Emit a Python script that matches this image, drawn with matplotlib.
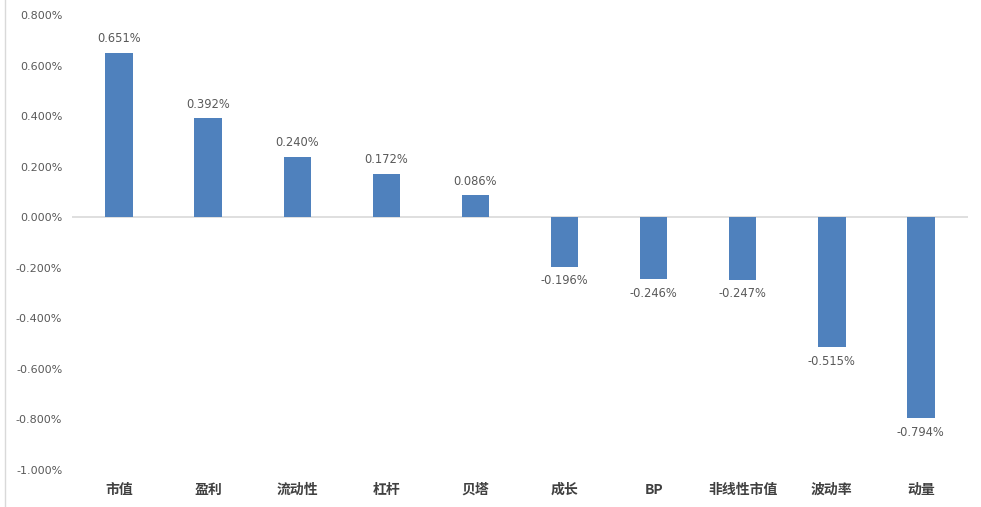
import matplotlib
matplotlib.use("Agg")
import matplotlib.pyplot as plt
from matplotlib.lines import Line2D

plt.rcParams['font.family'] = ['Noto Sans CJK SC', 'DejaVu Sans']

categories = ["市值", "盈利", "流动性", "杠杆", "贝塔", "成长", "BP", "非线性市值", "波动率", "动量"]
values = [0.651, 0.392, 0.240, 0.172, 0.086, -0.196, -0.246, -0.247, -0.515, -0.794]
yticks = [0.8, 0.6, 0.4, 0.2, 0.0, -0.2, -0.4, -0.6, -0.8, -1.0]

W, H = 981, 507
fig = plt.figure(figsize=(W / 100, H / 100), dpi=100)
ax = fig.add_axes([72 / W, 1 - 470 / H, (968 - 72) / W, (470 - 15) / H])

x = list(range(len(categories)))
ax.bar(x, values, width=0.31, color="#4F81BD", zorder=3)
ax.axhline(0, color="#D9D9D9", lw=1.2, zorder=2)

for xi, v in zip(x, values):
    off = 0.03 if v >= 0 else -0.03
    ax.text(xi, v + off, f"{v:.3f}%", ha="center", va="bottom" if v >= 0 else "top",
            fontsize=8.3, color="#595959", family="DejaVu Sans")

ax.set_xlim(-0.53, len(categories) - 0.47)
ax.set_ylim(-1.0, 0.8)
ax.set_yticks(yticks)
ax.set_yticklabels([f"{t:.3f}%" for t in yticks], fontsize=8, color="#595959", family="DejaVu Sans")
ax.tick_params(axis="y", length=0, pad=7)
ax.tick_params(axis="x", length=0)
ax.set_xticks([])
for s in ax.spines.values():
    s.set_visible(False)

for xi, c in zip(x, categories):
    ax.text(xi, -1.05, c, ha="center", va="top", fontsize=10, color="#404040",
            fontweight="bold", family=["Noto Sans CJK SC", "DejaVu Sans"])

fig.add_artist(Line2D([5 / W, 5 / W], [0, 1], transform=fig.transFigure, color="#D9D9D9", lw=1))

fig.savefig("out.png", dpi=100)
